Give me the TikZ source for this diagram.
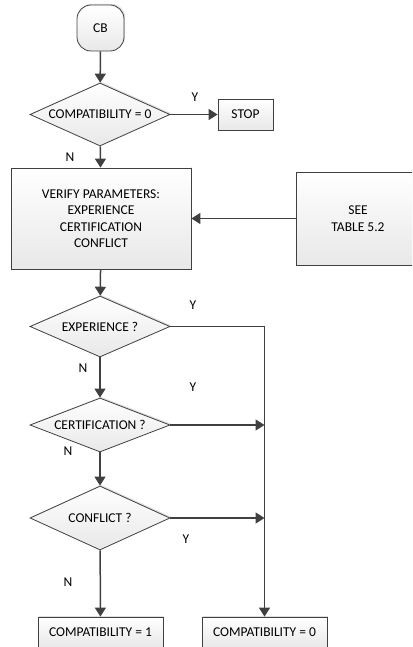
\documentclass[tikz,border=0pt]{standalone}
\usepackage{fontspec}
\setmainfont{Carlito}
\usepackage{tikz}
\usetikzlibrary{shapes.geometric,shadows}
\usetikzlibrary{arrows.meta,calc,positioning}
\definecolor{linegray}{rgb}{0.25,0.25,0.25}
\definecolor{boxgray}{rgb}{0.91,0.91,0.91}

\tikzset{
  base/.style={draw=linegray, line width=0.8pt, top color=white, bottom color=boxgray,
    font=\fontsize{13.5}{16.5}\selectfont, align=center, inner sep=0pt,
    drop shadow={shadow xshift=1.2pt, shadow yshift=1.2pt, opacity=0.25}},
  box/.style={base, rectangle},
  term/.style={base, rectangle, rounded corners=14pt, minimum width=47pt, minimum height=46pt},
  decision/.style={base, diamond, shape aspect=2.26, minimum width=140pt},
  flow/.style={draw=linegray, line width=1.5pt, -{Triangle[length=9pt,width=11pt]}},
  yn/.style={font=\fontsize{13.5}{16}\selectfont, inner sep=0pt}
}

\begin{document}
\begin{tikzpicture}[x=1pt, y=-1pt]
  \useasboundingbox (0,0) rectangle (412,647);
  \clip (0,0) rectangle (412,647);

  \node[term] (cb) at (100.5,28) {CB};
  \node[decision, minimum height=63pt] (zero) at (100,114.5) {COMPATIBILITY = 0};
  \node[box, minimum width=55pt, minimum height=31pt] (stop) at (245.5,114.5) {STOP};
  \node[box, minimum width=180pt, minimum height=101pt] (verify) at (101,218.5)
    {VERIFY PARAMETERS:\\EXPERIENCE\\CERTIFICATION\\CONFLICT};
  \node[box, minimum width=124pt, minimum height=93pt] (table) at (358,218.5) {SEE\\TABLE 5.2};
  \node[decision, minimum height=61pt] (exper) at (100,326.5) {EXPERIENCE ?};
  \node[decision, minimum height=54pt] (cert) at (100,425) {CERTIFICATION ?};
  \node[decision, minimum height=64pt] (confl) at (100,518) {CONFLICT ?};
  \node[box, minimum width=125pt, minimum height=31pt] (compone) at (100.5,632.5) {COMPATIBILITY = 1};
  \node[box, minimum width=125pt, minimum height=31pt] (compzero) at (264.5,632.5) {COMPATIBILITY = 0};

  \draw[flow] (cb) -- (zero);
  \draw[flow] (zero) -- (stop);
  \draw[flow] (zero) -- (verify);
  \draw[flow] (table) -- (verify);
  \draw[flow] (verify) -- (exper);
  \draw[flow] (exper) -- (cert);
  \draw[flow] (cert) -- (confl);
  \draw[flow] (confl) -- (compone);
  \draw[flow] (exper.east) -- (exper.east -| compzero.north) -- (compzero.north);
  \draw[flow] (cert.east) -- (cert.east -| compzero.north);
  \draw[flow] (confl.east) -- (confl.east -| compzero.north);

  \node[yn] (y0) at (195,97) {Y};
  \node[yn] (n0) at (70,157) {N};
  \node[yn] (y1) at (193,305) {Y};
  \node[yn] (n1) at (83,368) {N};
  \node[yn] (y2) at (193,387) {Y};
  \node[yn] (n2) at (68,451) {N};
  \node[yn] (y3) at (186,539) {Y};
  \node[yn] (n3) at (68,582) {N};
\end{tikzpicture}
\end{document}
